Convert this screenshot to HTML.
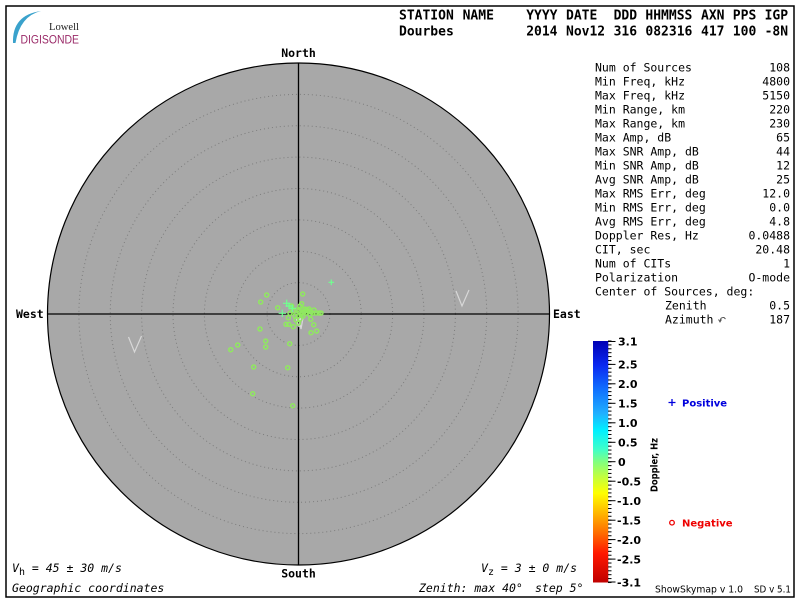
<!DOCTYPE html>
<html><head><meta charset="utf-8"><style>
html,body{margin:0;padding:0;background:#fff;}
svg{display:block;}
.m{font-family:"DejaVu Sans Mono","Liberation Mono",monospace;}
.s{font-family:"DejaVu Sans","Liberation Sans",sans-serif;}
</style></head><body>
<svg width="800" height="600" viewBox="0 0 800 600" xmlns="http://www.w3.org/2000/svg">
<defs>
<linearGradient id="jet" x1="0" y1="0" x2="0" y2="1">
<stop offset="0" stop-color="#0000b4"/>
<stop offset="0.1" stop-color="#0a28f0"/>
<stop offset="0.2" stop-color="#1070ff"/>
<stop offset="0.3" stop-color="#20b0ff"/>
<stop offset="0.37" stop-color="#00f0ff"/>
<stop offset="0.45" stop-color="#40ffc8"/>
<stop offset="0.5" stop-color="#80ff80"/>
<stop offset="0.56" stop-color="#c0ff40"/>
<stop offset="0.63" stop-color="#ffff00"/>
<stop offset="0.72" stop-color="#ffb000"/>
<stop offset="0.8" stop-color="#ff6800"/>
<stop offset="0.88" stop-color="#ff1800"/>
<stop offset="1" stop-color="#c00000"/>
</linearGradient>
<pattern id="tk" x="0" y="340.5" width="6" height="3.895" patternUnits="userSpaceOnUse"><rect width="6" height="1" fill="#000"/></pattern>
</defs>

<!-- frame -->
<rect x="6" y="6" width="788" height="591" fill="none" stroke="#000" stroke-width="1.5"/>

<!-- logo -->
<path d="M13,43 Q12,15 41,11 Q20,16 15.5,43 Z" fill="#3aa2cc"/>
<text x="49" y="30" font-family="Liberation Serif,serif" font-size="11" fill="#222" textLength="30" lengthAdjust="spacingAndGlyphs">Lowell</text>
<text x="20.5" y="43.5" font-family="Liberation Sans,sans-serif" font-size="11.5" fill="#9a2a68" textLength="58.5" lengthAdjust="spacingAndGlyphs">DIGISONDE</text>

<!-- header -->
<g class="m" font-weight="bold" font-size="13" fill="#000">
<text x="399" y="19.5">STATION</text><text x="462.6" y="19.5">NAME</text>
<text x="526.2" y="19.5">YYYY</text><text x="566" y="19.5">DATE</text>
<text x="613.6" y="19.5">DDD</text><text x="645.4" y="19.5">HHMMSS</text>
<text x="701" y="19.5">AXN</text><text x="732.8" y="19.5">PPS</text><text x="764.6" y="19.5">IGP</text>
<text x="399" y="35.5">Dourbes</text>
<text x="526.2" y="35.5">2014</text><text x="566" y="35.5">Nov12</text>
<text x="613.6" y="35.5">316</text><text x="645.4" y="35.5">082316</text>
<text x="701" y="35.5">417</text><text x="732.8" y="35.5">100</text><text x="764.6" y="35.5">-8N</text>
</g>

<!-- sky map -->
<circle cx="298.5" cy="314" r="251" fill="#a8a8a8" stroke="#000" stroke-width="1.2"/>
<g fill="none" stroke="#7c7c7c" stroke-width="1" stroke-dasharray="1 3">
<circle cx="298.5" cy="314" r="31.4"/>
<circle cx="298.5" cy="314" r="62.75"/>
<circle cx="298.5" cy="314" r="94.1"/>
<circle cx="298.5" cy="314" r="125.5"/>
<circle cx="298.5" cy="314" r="156.9"/>
<circle cx="298.5" cy="314" r="188.25"/>
<circle cx="298.5" cy="314" r="219.6"/>
</g>
<line x1="298.5" y1="63" x2="298.5" y2="565" stroke="#000" stroke-width="1.3"/>
<line x1="47.5" y1="314" x2="549.5" y2="314" stroke="#000" stroke-width="1.3"/>

<g class="m" font-weight="bold" font-size="11.5" fill="#000">
<text x="298.5" y="57" text-anchor="middle">North</text>
<text x="298.5" y="577.5" text-anchor="middle">South</text>
<text x="16" y="318">West</text>
<text x="553" y="318">East</text>
</g>

<!-- V marks -->
<g fill="none" stroke="#d8d8d8" stroke-width="1.2">
<polyline points="128.5,337 134.5,352 141.5,336"/>
<polyline points="456,291 462,306 469,290"/>
<polyline points="296,317 299,327 301,317"/>
<polyline points="299,318 301,329 303,318"/>
</g>

<!-- data: circles -->
<g fill="none" stroke="#90e860" stroke-width="1.5">
<circle cx="266.7" cy="295" r="2"/>
<circle cx="260.7" cy="302" r="2"/>
<circle cx="302.7" cy="294" r="2"/>
<circle cx="277.7" cy="307.7" r="2"/>
<circle cx="301.7" cy="303.7" r="2"/>
<circle cx="291.7" cy="306" r="2"/>
<circle cx="290" cy="313.3" r="2"/>
<circle cx="288.3" cy="317.7" r="2"/>
<circle cx="286" cy="324.3" r="2"/>
<circle cx="288.8" cy="324.3" r="2"/>
<circle cx="293.3" cy="326.7" r="2"/>
<circle cx="298.3" cy="323.3" r="2"/>
<circle cx="310.7" cy="319.3" r="2"/>
<circle cx="313.7" cy="324.7" r="2"/>
<circle cx="316.7" cy="331" r="2"/>
<circle cx="311" cy="332.7" r="2"/>
<circle cx="260" cy="329" r="2"/>
<circle cx="265.7" cy="341" r="2"/>
<circle cx="265.7" cy="347" r="2"/>
<circle cx="289.7" cy="343.7" r="2"/>
<circle cx="230.7" cy="349.7" r="2"/>
<circle cx="237.7" cy="345" r="2"/>
<circle cx="253.7" cy="367" r="2"/>
<circle cx="287.7" cy="367.7" r="2"/>
<circle cx="252.7" cy="393.7" r="2"/>
<circle cx="292.7" cy="405.7" r="2"/>
<circle cx="303" cy="309" r="2"/>
<circle cx="305" cy="309" r="2"/>
<circle cx="307" cy="310" r="2"/>
<circle cx="309" cy="309" r="2"/>
<circle cx="304" cy="312" r="2"/>
<circle cx="306" cy="313" r="2"/>
<circle cx="308" cy="311" r="2"/>
<circle cx="311" cy="312" r="2"/>
<circle cx="313" cy="313" r="2"/>
<circle cx="316" cy="313" r="2"/>
<circle cx="319" cy="313" r="2"/>
<circle cx="321" cy="313" r="2"/>
<circle cx="298" cy="316" r="2"/>
<circle cx="301" cy="315" r="2"/>
<circle cx="295" cy="316" r="2"/>
<circle cx="296" cy="320" r="2"/>
<circle cx="300" cy="319" r="2"/>
<circle cx="303" cy="316" r="2"/>
<circle cx="293" cy="311" r="2"/>
<circle cx="297" cy="310" r="2"/>
<circle cx="299" cy="311" r="2"/>
<circle cx="302" cy="313" r="2"/>
<circle cx="310" cy="315" r="2"/>
<circle cx="314" cy="310" r="2"/>
<circle cx="300" cy="306" r="2"/>
</g>
<!-- data: pluses -->
<g stroke="#70ff90" stroke-width="1.2">
<path d="M328.5,282.3h5.6M331.3,279.5v5.6"/>
<path d="M283,303.3h7.4M286.7,299.6v7.4"/>
<path d="M288.6,308.3h7.4M292.3,304.6v7.4"/>
<path d="M278.6,313.3h7.4M282.3,309.6v7.4"/>
<path d="M285.5,306h7M289,302.5v7"/>
</g>

<!-- stats -->
<g class="m" font-size="11.5" fill="#000">
<text x="595" y="71.5">Num of Sources</text><text x="790" y="71.5" text-anchor="end">108</text>
<text x="595" y="85.5">Min Freq, kHz</text><text x="790" y="85.5" text-anchor="end">4800</text>
<text x="595" y="99.5">Max Freq, kHz</text><text x="790" y="99.5" text-anchor="end">5150</text>
<text x="595" y="113.5">Min Range, km</text><text x="790" y="113.5" text-anchor="end">220</text>
<text x="595" y="127.5">Max Range, km</text><text x="790" y="127.5" text-anchor="end">230</text>
<text x="595" y="141.5">Max Amp, dB</text><text x="790" y="141.5" text-anchor="end">65</text>
<text x="595" y="155.5">Max SNR Amp, dB</text><text x="790" y="155.5" text-anchor="end">44</text>
<text x="595" y="169.5">Min SNR Amp, dB</text><text x="790" y="169.5" text-anchor="end">12</text>
<text x="595" y="183.5">Avg SNR Amp, dB</text><text x="790" y="183.5" text-anchor="end">25</text>
<text x="595" y="197.5">Max RMS Err, deg</text><text x="790" y="197.5" text-anchor="end">12.0</text>
<text x="595" y="211.5">Min RMS Err, deg</text><text x="790" y="211.5" text-anchor="end">0.0</text>
<text x="595" y="225.5">Avg RMS Err, deg</text><text x="790" y="225.5" text-anchor="end">4.8</text>
<text x="595" y="239.5">Doppler Res, Hz</text><text x="790" y="239.5" text-anchor="end">0.0488</text>
<text x="595" y="253.5">CIT, sec</text><text x="790" y="253.5" text-anchor="end">20.48</text>
<text x="595" y="267.5">Num of CITs</text><text x="790" y="267.5" text-anchor="end">1</text>
<text x="595" y="281.5">Polarization</text><text x="790" y="281.5" text-anchor="end">O-mode</text>
<text x="595" y="295.5">Center of Sources, deg:</text>
<text x="665" y="309.5">Zenith</text><text x="790" y="309.5" text-anchor="end">0.5</text>
<text x="665" y="323.5">Azimuth</text><text x="790" y="323.5" text-anchor="end">187</text>
</g>
<path d="M720,321 Q720.5,317 724,317.5 L725.5,319" fill="none" stroke="#555" stroke-width="1"/>
<path d="M718.5,319.5 L720,322 L721.5,319.5" fill="none" stroke="#555" stroke-width="0.9"/>

<!-- colorbar -->
<rect x="593" y="341" width="15.3" height="241.5" fill="url(#jet)"/>
<rect x="608" y="340.5" width="3.5" height="243" fill="url(#tk)"/>
<g stroke="#000" stroke-width="1">
<line x1="608" y1="341.5" x2="615.5" y2="341.5"/>
<line x1="608" y1="364.4" x2="615.5" y2="364.4"/>
<line x1="608" y1="383.8" x2="615.5" y2="383.8"/>
<line x1="608" y1="403.3" x2="615.5" y2="403.3"/>
<line x1="608" y1="422.8" x2="615.5" y2="422.8"/>
<line x1="608" y1="442.3" x2="615.5" y2="442.3"/>
<line x1="608" y1="461.7" x2="615.5" y2="461.7"/>
<line x1="608" y1="481.2" x2="615.5" y2="481.2"/>
<line x1="608" y1="500.7" x2="615.5" y2="500.7"/>
<line x1="608" y1="520.2" x2="615.5" y2="520.2"/>
<line x1="608" y1="539.6" x2="615.5" y2="539.6"/>
<line x1="608" y1="559.1" x2="615.5" y2="559.1"/>
<line x1="608" y1="582" x2="615.5" y2="582"/>
</g>
<g class="s" font-weight="bold" font-size="11" fill="#000">
<text x="618" y="345.5">3.1</text>
<text x="618" y="368.5">2.5</text>
<text x="618" y="388">2.0</text>
<text x="618" y="407.5">1.5</text>
<text x="618" y="427">1.0</text>
<text x="618" y="446.5">0.5</text>
<text x="618" y="466">0</text>
<text x="617" y="485.5">-0.5</text>
<text x="617" y="505">-1.0</text>
<text x="617" y="524.5">-1.5</text>
<text x="617" y="544">-2.0</text>
<text x="617" y="563.5">-2.5</text>
<text x="617" y="586.5">-3.1</text>
</g>
<text class="s" font-weight="bold" font-size="10" fill="#000" transform="translate(657.5,465) rotate(-90)" text-anchor="middle" textLength="54" lengthAdjust="spacingAndGlyphs">Doppler, Hz</text>

<!-- legend -->
<path d="M668.5,402.5h7M672,399v7" stroke="#0000dd" stroke-width="1.3"/>
<text x="682" y="406.5" class="s" font-weight="bold" font-size="10" fill="#0000dd">Positive</text>
<circle cx="672" cy="522.7" r="2.3" fill="none" stroke="#ee0000" stroke-width="1.3"/>
<text x="682" y="526.5" class="s" font-weight="bold" font-size="10" fill="#ee0000">Negative</text>

<!-- bottom texts -->
<g class="m" font-style="italic" font-size="11.5" fill="#000">
<text x="12" y="572">V<tspan dy="3" font-size="10" font-style="normal">h</tspan><tspan dy="-3"> = 45 ± 30 m/s</tspan></text>
<text x="12" y="592">Geographic coordinates</text>
<text x="481" y="572">V<tspan dy="3" font-size="10" font-style="normal">z</tspan><tspan dy="-3"> = 3 ± 0 m/s</tspan></text>
<text x="419" y="592">Zenith: max 40°</text>
<text x="535" y="592">step 5°</text>
</g>
<text x="655" y="592.5" class="s" font-size="10" fill="#000" textLength="88" lengthAdjust="spacingAndGlyphs">ShowSkymap v 1.0</text>
<text x="754" y="592.5" class="s" font-size="10" fill="#000" textLength="37" lengthAdjust="spacingAndGlyphs">SD v 5.1</text>
</svg>
</body></html>
